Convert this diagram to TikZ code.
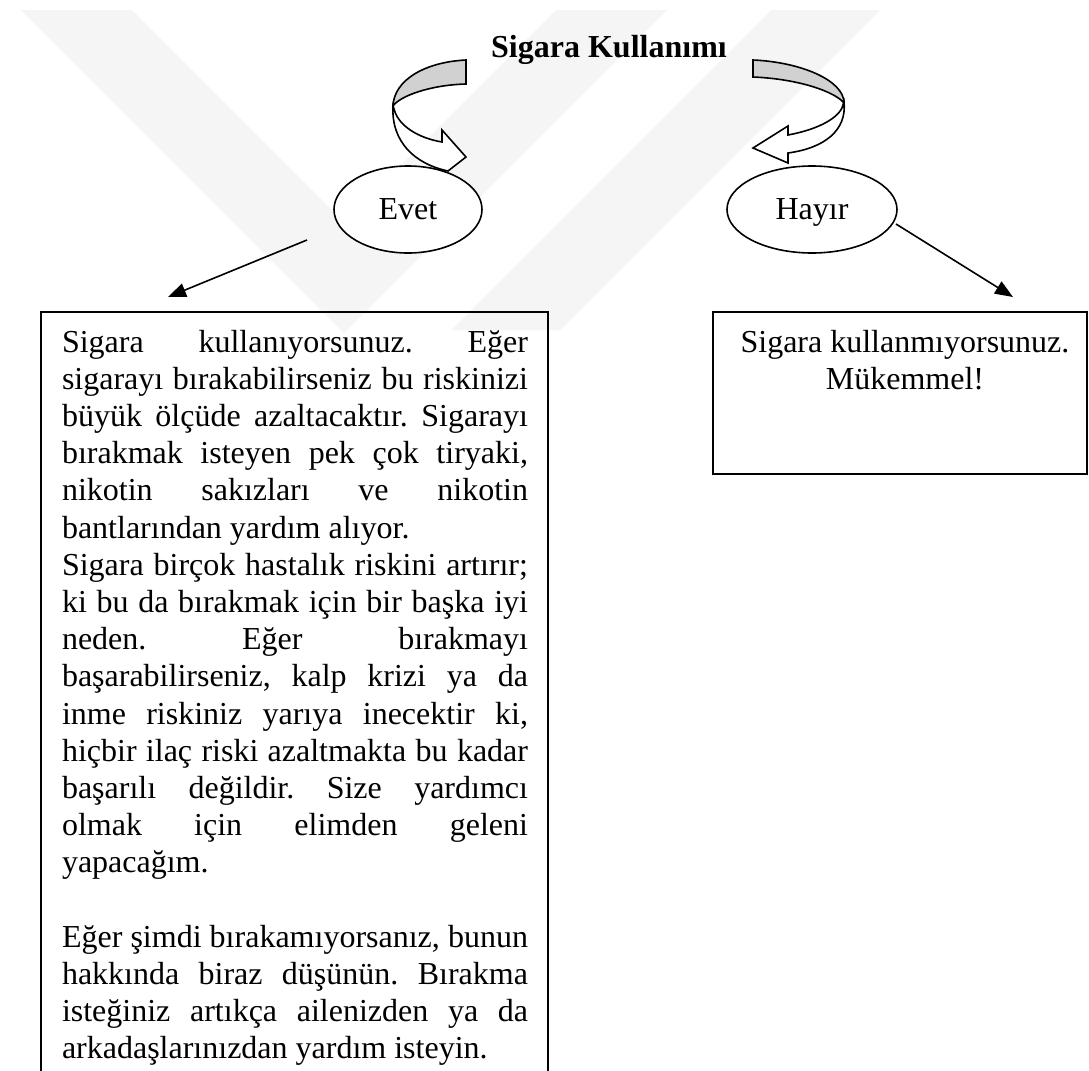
\documentclass[tikz,border=0pt]{standalone}
\usepackage{fontspec}
\setmainfont{Liberation Serif}
\usetikzlibrary{arrows.meta,shapes.geometric}
\newcommand\jl[1]{\makebox[233pt][s]{#1}}
\frenchspacing
\begin{document}
\begin{tikzpicture}[x=0.5pt,y=-0.5pt,
  every node/.style={inner sep=0pt, outer sep=0pt},
  txt/.style={font=\fontsize{16}{18.6}\selectfont},
  oval/.style={draw, ellipse, line width=0.8pt, minimum height=43.5pt, text height=11pt, text depth=1pt, font=\fontsize{16}{18.5}\selectfont},
  box/.style={draw, rectangle, line width=1.1pt, anchor=north west},
  conn/.style={line width=0.8pt, -{Triangle[length=9pt,width=7pt]}},
  ribbon/.style={draw, line width=0.8pt, line join=miter},
  wm/.style={fill=black!4, draw=none}
]
\useasboundingbox (0,0) rectangle (1089,1071);
\fill[white] (0,0) rectangle (1089,1071);

% faint watermark
\fill[wm] (21,10) -- (132,10) -- (344,222) -- (556,10) -- (667,10) -- (344,333) -- cycle;
\fill[wm] (771,10) -- (880,10) -- (560,330) -- (451,330) -- cycle;

% title
\node[font=\fontsize{16}{18.5}\selectfont\bfseries, anchor=base] (title) at (609,57) {Sigara Kullanımı};

% curved ribbon arrows
\draw[ribbon, fill=white] (393,106) .. controls (391,142) and (415,164) .. (448,171) -- (466,157) -- (442,130) -- (442,142) .. controls (418,138) and (400,126) .. (395,112) -- cycle;
\draw[ribbon, fill=black!18] (466,60) .. controls (425,62) and (394,80) .. (393,106) .. controls (400,96) and (430,85) .. (466,84) -- cycle;

\draw[ribbon, fill=white] (844,102) .. controls (847,130) and (825,148) .. (788,153) -- (788,163) -- (753,148) -- (788,126) -- (788,135) .. controls (815,130) and (836,120) .. (842,108) -- cycle;
\draw[ribbon, fill=black!18] (753,60) .. controls (800,62) and (844,80) .. (844,103) .. controls (835,92) and (800,79) .. (753,77) -- cycle;

% ellipses
\node[oval, minimum width=74pt, fill=white] (evet) at (408,209.5) {Evet};
\node[oval, minimum width=85pt, fill=white] (hayir) at (812,209.5) {Hayır};

% connectors
\coordinate (ys) at (307,240);
\coordinate (yt) at (168,297);
\coordinate (ns) at (896,224);
\coordinate (nt) at (1013,297);
\draw[conn] (ys) -- (yt);
\draw[conn] (ns) -- (nt);

% boxes
\node[box, minimum width=253.5pt, minimum height=400pt] (yesbox) at (41,312) {};
\node[box, minimum width=187pt, minimum height=81pt] (nobox) at (713,312) {};

\node[txt, anchor=base west] (yestext) at (62,352) {\parbox[t]{233pt}{\lineskiplimit=-20pt
\jl{Sigara kullanıyorsunuz. Eğer}\\
\jl{sigarayı bırakabilirseniz bu riskinizi}\\
\jl{büyük ölçüde azaltacaktır. Sigarayı}\\
\jl{bırakmak isteyen pek çok tiryaki,}\\
\jl{nikotin sakızları ve nikotin}\\
bantlarından yardım alıyor.\\
\jl{Sigara birçok hastalık riskini artırır;}\\
\jl{ki bu da bırakmak için bir başka iyi}\\
\jl{neden. Eğer bırakmayı}\\
\jl{başarabilirseniz, kalp krizi ya da}\\
\jl{inme riskiniz yarıya inecektir ki,}\\
\jl{hiçbir ilaç riski azaltmakta bu kadar}\\
\jl{başarılı değildir. Size yardımcı}\\
\jl{olmak için elimden geleni}\\
yapacağım.\\
\mbox{}\\
\jl{Eğer şimdi bırakamıyorsanız, bunun}\\
\jl{hakkında biraz düşünün. Bırakma}\\
\jl{isteğiniz artıkça ailenizden ya da}\\
arkadaşlarınızdan yardım isteyin.}};

\node[txt, anchor=base] (notext) at (905,352) {\parbox[t]{180pt}{\centering Sigara kullanmıyorsunuz.\\ Mükemmel!}};
\end{tikzpicture}
\end{document}
